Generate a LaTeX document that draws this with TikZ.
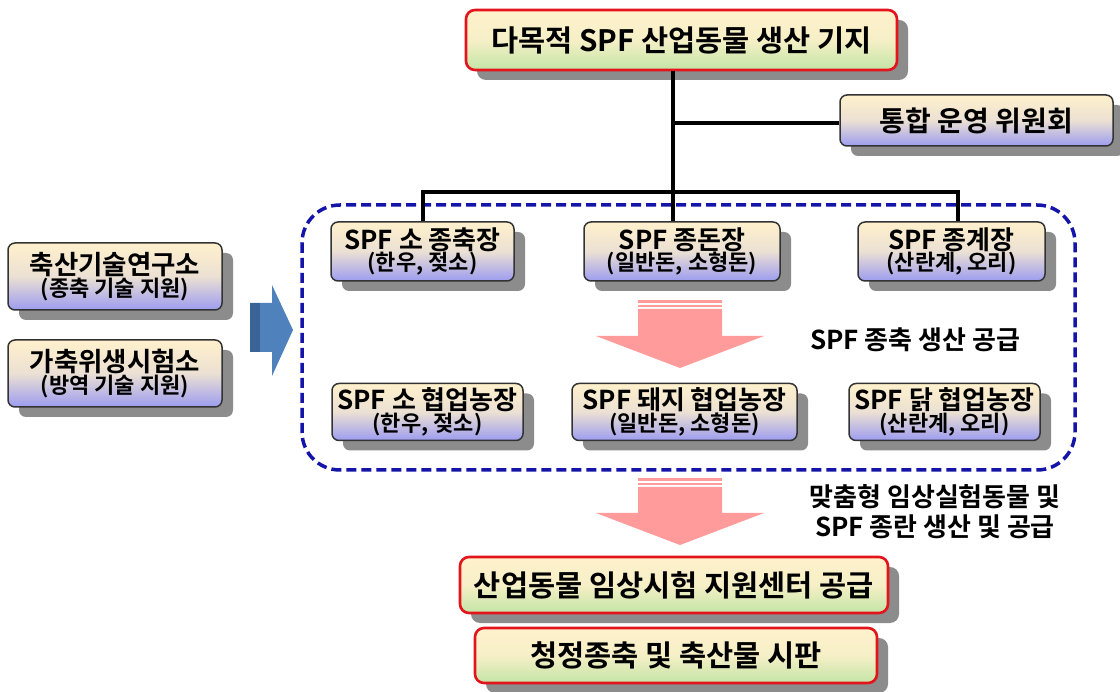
\documentclass[tikz,border=0pt]{standalone}
\usepackage{fontspec}
\setmainfont{Noto Sans CJK KR}[BoldFont={Noto Sans CJK KR Bold}]
\usetikzlibrary{shadows}
\definecolor{cream}{HTML}{FFF1CC}
\definecolor{lgreen}{HTML}{C3E5A6}
\definecolor{lav}{HTML}{9C9CF0}
\definecolor{boxred}{HTML}{E3141C}
\definecolor{dashblue}{HTML}{1414A8}
\definecolor{pinkarrow}{HTML}{FF9B9B}
\definecolor{arrowblue}{HTML}{4F81BD}
\definecolor{arrowdark}{HTML}{3A6496}
\definecolor{shadowgray}{HTML}{8C8C8C}
\newcommand{\tln}[4]{{\fontsize{#3}{#3}\selectfont #1}\\[0pt]{\fontsize{#4}{#4}\selectfont #2}}
\tikzset{
 sh/.style={drop shadow={fill=shadowgray, opacity=1, shadow xshift=11pt, shadow yshift=-10pt}},
 redbox/.style={sh, draw=boxred, line width=2.6pt, rounded corners=9pt, top color=cream, bottom color=lgreen, middle color=cream!85!lgreen, font=\bfseries\fontsize{29.5}{32}\selectfont, inner sep=0pt, align=center},
 lavbox/.style={sh, draw=black!80, line width=1.5pt, rounded corners=7pt, top color=cream, bottom color=lav, middle color=cream!80!lav, font=\bfseries, inner sep=0pt, align=center},
 conn/.style={line width=3.4pt, black},
 lbl/.style={font=\bfseries\fontsize{26}{30}\selectfont, align=center},
}
\begin{document}
\begin{tikzpicture}[x=1pt,y=-1pt]
\useasboundingbox (0,0) rectangle (1120,692);
\fill[white] (0,0) rectangle (1120,692);

% dashed group
\draw[dashblue, line width=3.5pt, dash pattern=on 10pt off 5pt, rounded corners=38pt] (302,205) rectangle (1075,470);

% top boxes
\node[redbox, minimum width=431pt, minimum height=60pt] (top) at (681.5,40) {다목적 SPF 산업동물 생산 기지};
\node[lavbox, minimum width=273pt, minimum height=51pt, font=\bfseries\fontsize{28}{30}\selectfont] (comm) at (976.5,120.5) {통합 운영 위원회};

% row 1
\node[lavbox, minimum width=183pt, minimum height=59pt] (r1a) at (422.5,251.5) {\tln{SPF 소 종축장}{(한우, 젖소)}{26}{22}};
\node[lavbox, minimum width=196pt, minimum height=59pt] (r1b) at (682,251.5) {\tln{SPF 종돈장}{(일반돈, 소형돈)}{26}{22}};
\node[lavbox, minimum width=187pt, minimum height=59pt] (r1c) at (951.5,251.5) {\tln{SPF 종계장}{(산란계, 오리)}{26}{22}};

% row 2
\node[lavbox, minimum width=191pt, minimum height=57pt] (r2a) at (427.5,412) {\tln{SPF 소 협업농장}{(한우, 젖소)}{26}{22}};
\node[lavbox, minimum width=225pt, minimum height=57pt] (r2b) at (684.5,412) {\tln{SPF 돼지 협업농장}{(일반돈, 소형돈)}{26}{22}};
\node[lavbox, minimum width=191pt, minimum height=57pt] (r2c) at (944.5,412) {\tln{SPF 닭 협업농장}{(산란계, 오리)}{26}{22}};

% left boxes
\node[lavbox, minimum width=214pt, minimum height=67pt] (lt1) at (115,276.5) {\tln{축산기술연구소}{(종축 기술 지원)}{26.5}{22}};
\node[lavbox, minimum width=214pt, minimum height=67pt] (lt2) at (115,373.5) {\tln{가축위생시험소}{(방역 기술 지원)}{26.5}{22}};

% bottom boxes
\node[redbox, minimum width=428pt, minimum height=56pt] (b1) at (674,585) {산업동물 임상시험 지원센터 공급};
\node[redbox, minimum width=402pt, minimum height=55pt] (b2) at (676,655.5) {청정종축 및 축산물 시판};

% connectors
\coordinate (hub) at (673,192);
\coordinate (j1) at (673,123);
\coordinate (hl) at (423,192);
\coordinate (hr) at (958,192);
\draw[conn] (hub |- top.south) -- (hub);
\draw[conn] (j1) -- (j1 -| comm.west);
\draw[conn, line cap=rect] (hl) -- (hr);
\draw[conn] (hl) -- (hl |- r1a.north);
\draw[conn] (hub) -- (hub |- r1b.north);
\draw[conn] (hr) -- (hr |- r1c.north);

% blue block arrow
\fill[arrowblue] (250,303) -- (272,303) -- (272,285) -- (293,330) -- (272,376) -- (272,352) -- (250,352) -- cycle;
\fill[arrowdark] (250,303) rectangle (260,352);

% pink arrows
\fill[pinkarrow] (638,300) rectangle (722,303);
\fill[pinkarrow] (638,305) rectangle (722,307);
\fill[pinkarrow] (638,309) -- (722,309) -- (722,336) -- (764,336) -- (680,368) -- (596,336) -- (638,336) -- cycle;

\fill[pinkarrow] (638,478) rectangle (722,481);
\fill[pinkarrow] (638,483) rectangle (722,485);
\fill[pinkarrow] (638,487) -- (722,487) -- (722,513) -- (764,513) -- (680,545) -- (596,513) -- (638,513) -- cycle;

% labels
\node[lbl] (l1) at (915,340) {SPF 종축 생산 공급};
\node[lbl] (l2) at (935,512) {맞춤형 임상실험동물 및\\SPF 종란 생산 및 공급};
\end{tikzpicture}
\end{document}
